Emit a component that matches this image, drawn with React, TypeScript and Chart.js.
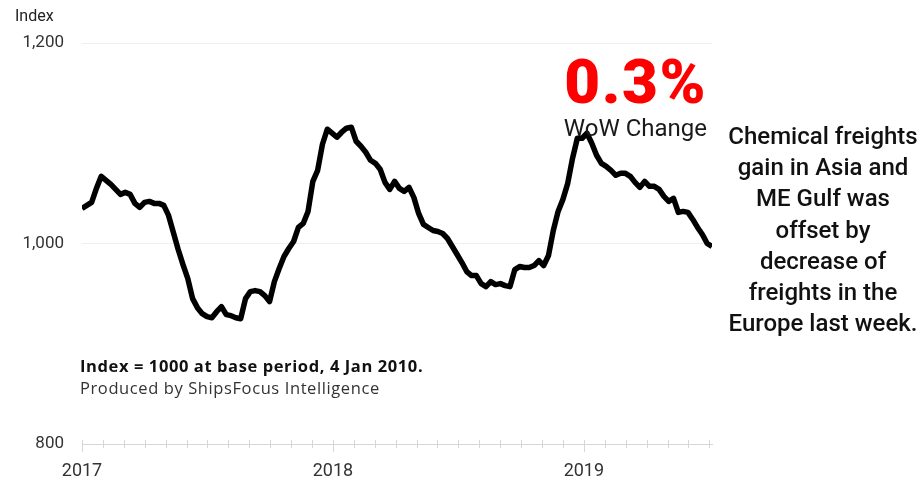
import React, { useEffect, useRef } from "react";
import { Chart, registerables } from "chart.js";

Chart.register(...registerables);

// Weekly chemical freight index, first week of Jan 2017 to early Jul 2019
const weeklyIndex = [
  1035, 1038, 1041, 1055, 1067, 1063, 1059, 1054, 1049, 1051,
  1049, 1040, 1036, 1041, 1042, 1040, 1040, 1038, 1028, 1011,
  994, 979, 965, 945, 936, 930, 927, 926, 932, 937,
  929, 928, 926, 925, 945, 952, 953, 952, 948, 942,
  962, 975, 987, 995, 1002, 1016, 1020, 1032, 1062, 1073,
  1099, 1114, 1110, 1106, 1111, 1115, 1116, 1102, 1097, 1091,
  1083, 1080, 1074, 1061, 1054, 1062, 1055, 1052, 1056, 1046,
  1030, 1019, 1016, 1013, 1012, 1010, 1005, 997, 989, 981,
  972, 968, 968, 960, 957, 962, 959, 960, 958, 957,
  974, 977, 976, 976, 978, 983, 978, 988, 1013, 1032,
  1044, 1060, 1085, 1105, 1105, 1110, 1100, 1088, 1080, 1077,
  1073, 1068, 1070, 1070, 1067, 1061, 1056, 1062, 1057, 1057,
  1054, 1047, 1042, 1045, 1031, 1032, 1031, 1024, 1016, 1009,
  1000, 997,
];

const yearLabels = ["2017", "2018", "2019"];
const yMin = 800;
const yMax = 1200;
const yStep = 200;
const daysPerWeek = 7;
const daysPerMonth = 30.4375;

const wowChange = "0.3%";
const wowLabel = "WoW Change";
const commentLines = [
  "Chemical freights",
  "gain in Asia and",
  "ME Gulf was",
  "offset by",
  "decrease of",
  "freights in the",
  "Europe last week.",
];
const noteLine = "Index = 1000 at base period, 4 Jan 2010.";
const sourceLine = "Produced by ShipsFocus Intelligence";
const yTitle = "Index";

const FONT = "Roboto, 'Noto Sans', sans-serif";
const NOTE_FONT = "'Open Sans', Roboto, sans-serif";

export default function App() {
  const ref = useRef<HTMLCanvasElement | null>(null);

  useEffect(() => {
    if (!ref.current) return;
    const points = weeklyIndex.map((v, i) => ({ x: (i * daysPerWeek) / daysPerMonth, y: v }));
    const xMax = ((weeklyIndex.length - 1) * daysPerWeek) / daysPerMonth;

    const tickMarks = {
      id: "tickMarks",
      beforeDatasetsDraw(chart: any) {
        const { ctx, chartArea } = chart;
        const x = chart.scales.x;
        ctx.save();
        ctx.strokeStyle = "#d6d6d6";
        ctx.lineWidth = 1;
        x.ticks.forEach((t: any) => {
          const px = Math.round(x.getPixelForValue(t.value)) + 0.5;
          const isYear = Math.round(t.value) % 12 === 0;
          ctx.beginPath();
          ctx.moveTo(px, chartArea.bottom - 4);
          ctx.lineTo(px, chartArea.bottom + (isYear ? 8 : 4));
          ctx.stroke();
        });
        ctx.restore();
      },
    };

    const chart = new Chart(ref.current, {
      type: "line",
      data: {
        datasets: [
          {
            data: points,
            borderColor: "#000000",
            borderWidth: 5.5,
            pointRadius: 0,
            tension: 0,
            fill: false,
            borderJoinStyle: "round",
          },
        ],
      },
      options: {
        responsive: false,
        animation: false,
        layout: { padding: { left: 0, right: 212, top: 43, bottom: 0 } },
        plugins: { legend: { display: false }, tooltip: { enabled: false } },
        scales: {
          x: {
            type: "linear",
            min: 0,
            max: xMax,
            afterFit: (s: any) => {
              s.height = 36;
            },
            ticks: {
              stepSize: 1,
              autoSkip: false,
              maxRotation: 0,
              includeBounds: false,
              padding: 17,
              color: "#333333",
              font: { family: FONT, size: 18 },
              callback: (v: any) => {
                const m = Math.round(Number(v));
                return m % 12 === 0 ? yearLabels[m / 12] ?? "" : "";
              },
            },
            grid: { drawOnChartArea: false, drawTicks: false },
            border: { display: true, color: "#d6d6d6", width: 1 },
          },
          y: {
            min: yMin,
            max: yMax,
            afterFit: (s: any) => {
              s.width = 82;
            },
            ticks: {
              stepSize: yStep,
              padding: 18,
              color: "#333333",
              font: { family: FONT, size: 17 },
              callback: (v: any) => Number(v).toLocaleString("en-US"),
            },
            grid: { color: "#eeeeee", drawTicks: false },
            border: { display: false },
          },
        },
      },
      plugins: [tickMarks],
    } as any);
    return () => chart.destroy();
  }, []);

  return (
    <div
      style={{
        position: "fixed",
        left: 0,
        top: 0,
        width: 924,
        height: 480,
        background: "#ffffff",
        overflow: "hidden",
        fontFamily: FONT,
      }}
    >
      <canvas ref={ref} width={924} height={480} style={{ position: "absolute", left: 0, top: 0 }} />
      <div style={{ position: "absolute", left: 15, top: 8, fontSize: 16, lineHeight: "16px", color: "#222" }}>
        {yTitle}
      </div>
      <div
        style={{
          position: "absolute",
          left: 520,
          width: 187,
          top: 51,
          textAlign: "right",
          fontSize: 62,
          lineHeight: "62px",
          fontWeight: 900,
          letterSpacing: 1.5,
          color: "#ff0000",
        }}
      >
        {wowChange}
      </div>
      <div
        style={{
          position: "absolute",
          left: 520,
          width: 187,
          top: 116,
          textAlign: "right",
          fontSize: 24,
          lineHeight: "24px",
          color: "#1a1a1a",
        }}
      >
        {wowLabel}
      </div>
      <div
        style={{
          position: "absolute",
          left: 718,
          width: 210,
          top: 121,
          textAlign: "center",
          fontSize: 24,
          lineHeight: "31.2px",
          fontWeight: 500,
          color: "#111",
        }}
      >
        {commentLines.map((l, i) => (
          <div key={i}>{l}</div>
        ))}
      </div>
      <div
        style={{
          position: "absolute",
          left: 80,
          top: 357,
          fontFamily: NOTE_FONT,
          fontSize: 16.5,
          lineHeight: "17px",
          fontWeight: 700,
          letterSpacing: 0.6,
          color: "#111",
          whiteSpace: "nowrap",
        }}
      >
        {noteLine}
      </div>
      <div
        style={{
          position: "absolute",
          left: 80,
          top: 379,
          fontFamily: NOTE_FONT,
          fontSize: 16.5,
          lineHeight: "17px",
          letterSpacing: 0.6,
          color: "#333",
          whiteSpace: "nowrap",
        }}
      >
        {sourceLine}
      </div>
    </div>
  );
}
